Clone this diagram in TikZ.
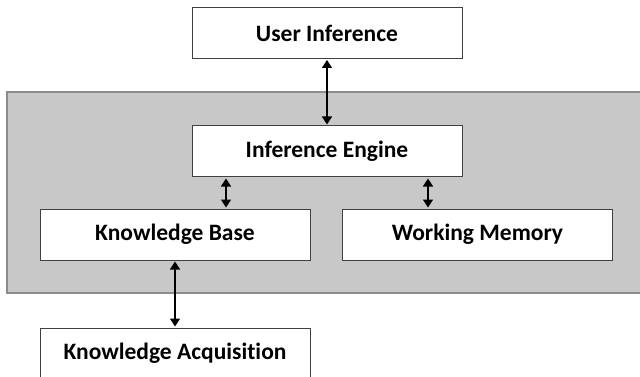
\documentclass[tikz,border=0pt]{standalone}
\usepackage{fontspec}
\setmainfont{Carlito}[Ligatures=NoCommon]
\usetikzlibrary{arrows.meta}
\definecolor{panel}{HTML}{C8C8C8}
\definecolor{panelborder}{HTML}{8C8C8C}
\tikzset{
  box/.style={draw=black!75, line width=1pt, fill=white, minimum width=270pt, minimum height=51pt, inner sep=0pt, font=\fontsize{23.5}{26}\selectfont\bfseries},
  link/.style={line width=1.4pt, {Triangle[width=10pt,length=8pt]}-{Triangle[width=10pt,length=8pt]}, shorten <=1pt, shorten >=1pt}
}
\begin{document}
\begin{tikzpicture}[x=1pt,y=-1pt]
\useasboundingbox (0,0) rectangle (640,377);
\fill[white] (0,0) rectangle (640,377);
\filldraw[fill=panel, draw=panelborder, line width=1.5pt] (642,92) -- (7,92) -- (7,293) -- (642,293);
\node[box] (ui) at (327,33) {User Inference};
\node[box] (ie) at (327,151.5) {Inference Engine};
\node[box] (kb) at (175,234.5) {Knowledge Base};
\node[box] (wm) at (477.5,234.5) {Working Memory};
\node[box, anchor=north] (ka) at (175,327.5) {Knowledge Acquisition};
\draw[link] (ui.south) -- (ie.north);
\draw[link] (ie.south -| 226,0) -- (kb.north -| 226,0);
\draw[link] (ie.south -| 428,0) -- (wm.north -| 428,0);
\draw[link] (kb.south) -- (ka.north);
\end{tikzpicture}
\end{document}
